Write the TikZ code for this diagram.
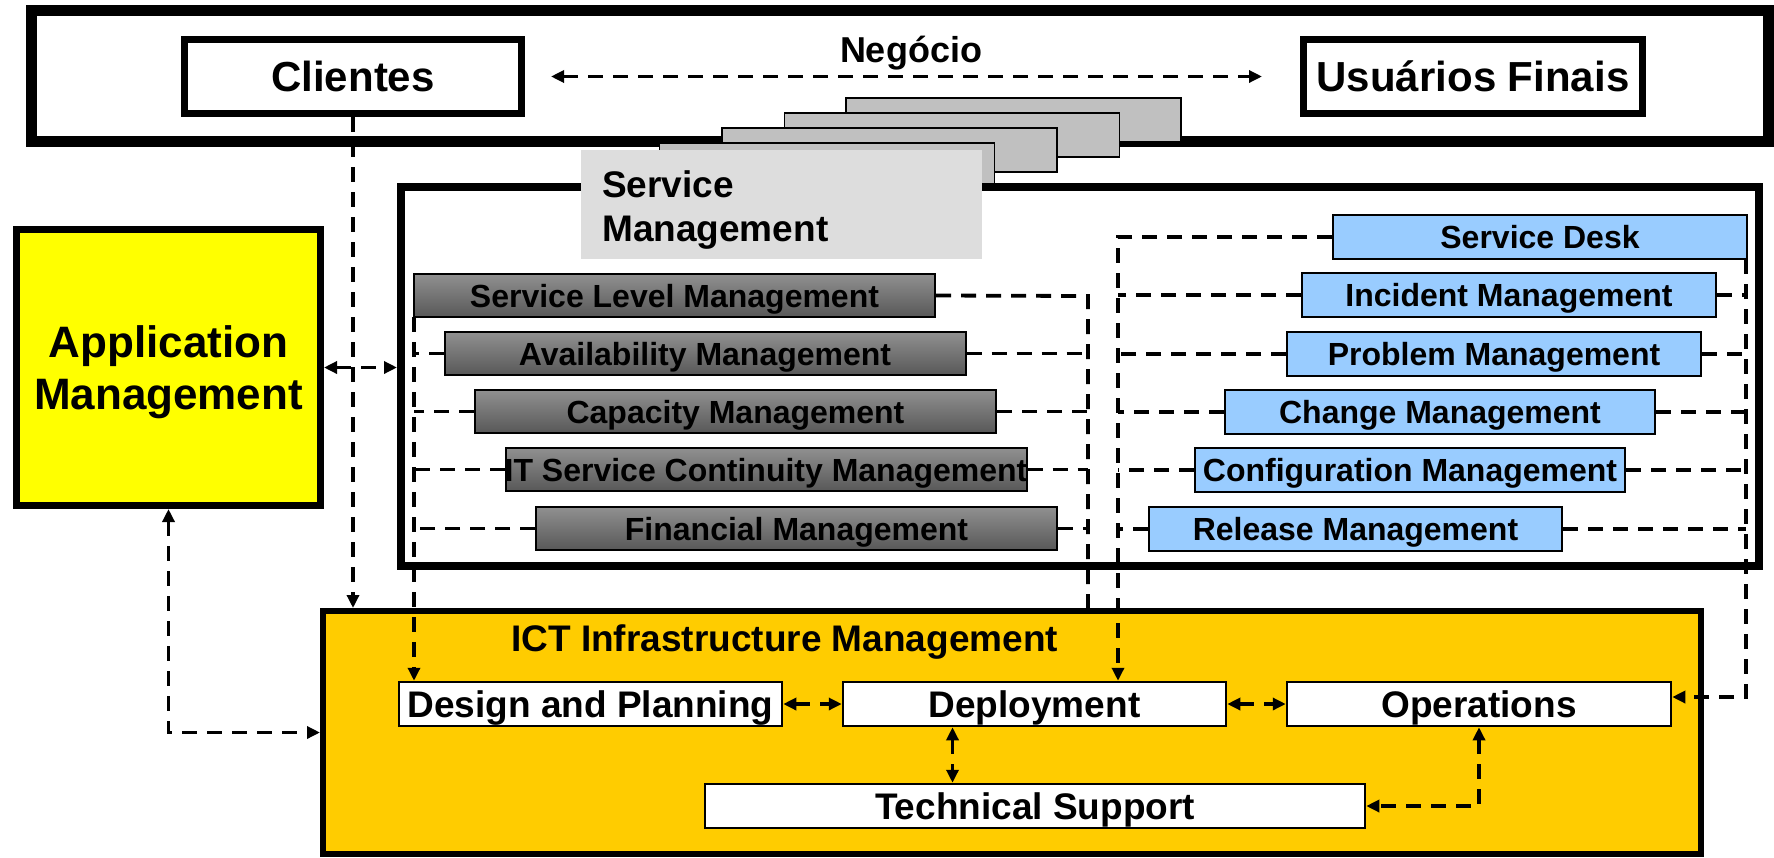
\documentclass[tikz,border=0pt]{standalone}
\usepackage{fontspec}
\setmainfont{Liberation Sans}
\usetikzlibrary{arrows.meta}
\definecolor{amyellow}{HTML}{FFFF00}
\definecolor{ictorange}{HTML}{FFCC00}
\definecolor{procblue}{HTML}{99CCFF}
\definecolor{titlegray}{HTML}{DDDDDD}
\definecolor{stackgray}{HTML}{C0C0C0}
\definecolor{proctop}{HTML}{909090}
\definecolor{procbot}{HTML}{585858}
\newcommand{\zw}[1]{\makebox[0pt]{#1}}
\begin{document}
\begin{tikzpicture}[x=1pt,y=-1pt,
  conn/.style={line width=3.8pt, dash pattern=on 15pt off 10pt},
  onearrow/.style={-{Triangle[length=13pt,width=12pt]}},
  twoarrow/.style={{Triangle[length=13pt,width=12pt]}-{Triangle[length=13pt,width=12pt]}},
  namebox/.style={draw, fill=white, line width=7pt, inner sep=0pt, minimum height=74pt, text height=30pt, text depth=0pt, font=\fontsize{42}{50}\selectfont\bfseries},
  stackbox/.style={draw, line width=1.5pt, fill=stackgray, minimum width=335pt, minimum height=44pt, inner sep=0pt},
  procgray/.style={draw, line width=2pt, top color=proctop, bottom color=procbot, minimum width=521pt, minimum height=43pt, inner sep=0pt, text height=23pt, text depth=0pt, font=\fontsize{32}{38}\selectfont\bfseries},
  procbluebox/.style={draw, line width=2pt, fill=procblue, minimum height=44pt, inner sep=0pt, text height=23pt, text depth=0pt, font=\fontsize{32}{38}\selectfont\bfseries},
  ictinner/.style={draw, line width=2.5pt, fill=white, minimum height=44pt, inner sep=0pt, text height=26.5pt, text depth=0pt, font=\fontsize{37}{44}\selectfont\bfseries},
  titletext/.style={inner sep=0pt, font=\fontsize{37}{44}\selectfont\bfseries}
]
\useasboundingbox (0,0) rectangle (1774,857);

% business frame
\node[draw, line width=11pt, minimum width=1737pt, minimum height=131pt, inner sep=0pt] (biz) at (900,76) {};
\node[namebox, minimum width=337pt] (cli) at (353,76.5) {Clientes};
\node[namebox, minimum width=339pt] (usu) at (1473,76.5) {Usuários Finais};
\node[inner sep=0pt, anchor=base, font=\fontsize{36}{43}\selectfont\bfseries] (neg) at (911,62) {Negócio};

% stacked boxes
\node[stackbox] (st4) at (1013.5,120) {};
\node[stackbox] (st3) at (952,135) {};
\node[stackbox] (st2) at (889.5,150) {};
\node[stackbox] (st1) at (827,165) {};

% service management frame
\node[draw, line width=8pt, minimum width=1358pt, minimum height=379pt, inner sep=0pt] (sm) at (1080,376.5) {};
\node[fill=titlegray, minimum width=401pt, minimum height=109pt, inner sep=0pt] (smbg) at (781.5,204.5) {};
\node[titletext, anchor=north west, align=left] (smtitle) at (602,170) {Service\\Management};

% application management
\node[draw, fill=amyellow, line width=7pt, minimum width=304pt, minimum height=276pt, inner sep=0pt] (am) at (168.5,367.5) {};
\node[inner sep=0pt, align=center, font=\fontsize{44}{52}\selectfont\bfseries] (amlabel) at ([yshift=-5pt]am.center) {Application\\Management};

% ICT
\node[draw, fill=ictorange, line width=6pt, minimum width=1378pt, minimum height=243pt, inner sep=0pt] (ict) at (1012,732.5) {};
\node[titletext, anchor=base west] (icttitle) at (511,651) {ICT Infrastructure Management};
\node[ictinner, minimum width=383pt] (dp) at (590.5,704) {Design and Planning};
\node[ictinner, minimum width=383pt] (dep) at (1034.5,704) {Deployment};
\node[ictinner, minimum width=384pt] (ops) at (1479,704) {Operations};
\node[ictinner, minimum width=660pt] (ts) at (1035,806) {Technical Support};

% left processes
\node[procgray] (slm) at (674.5,295.5) {\zw{Service Level Management}};
\node[procgray] (avm) at (705,353.5) {\zw{Availability Management}};
\node[procgray] (cap) at (735.5,411.5) {\zw{Capacity Management}};
\node[procgray] (itscm) at (766,469.5) {\zw{IT Service Continuity Management}};
\node[procgray] (fin) at (796.5,528.5) {\zw{Financial Management}};

% right processes
\node[procbluebox, minimum width=414pt] (sd) at (1540,237) {\zw{Service Desk}};
\node[procbluebox, minimum width=414pt] (im) at (1509,295) {\zw{Incident Management}};
\node[procbluebox, minimum width=414pt] (pm) at (1494,354) {\zw{Problem Management}};
\node[procbluebox, minimum width=430pt] (chm) at (1440,412) {\zw{Change Management}};
\node[procbluebox, minimum width=430pt] (cfm) at (1410,470) {\zw{Configuration Management}};
\node[procbluebox, minimum width=413pt] (rm) at (1355.5,529) {\zw{Release Management}};

% bus coordinates
\coordinate (lbusL) at (414,317);
\coordinate (lbusR) at (1088,296);
\coordinate (rbusL) at (1118,237);
\coordinate (rbusR) at (1746,259);
\coordinate (opsin) at ([yshift=7pt]ops.east);
\coordinate (dts) at ([xshift=-82pt]dep.south);

% connectors
\draw[conn, line width=3.2pt, twoarrow, shorten <=26pt, shorten >=38pt] (cli.east) -- (usu.west);
\draw[conn, onearrow] (cli.south) -- (cli.south |- ict.north);
\draw[conn, twoarrow] (am.east) -- (am.east -| sm.west);
\draw[conn, twoarrow] (am.south) |- (ict.west);

% left group, left bus
\draw[conn, onearrow] (lbusL) -- (lbusL |- dp.north);
\draw[conn] (avm.west) -- (avm.west -| lbusL);
\draw[conn] (cap.west) -- (cap.west -| lbusL);
\draw[conn] (itscm.west) -- (itscm.west -| lbusL);
\draw[conn] (fin.west) -- (fin.west -| lbusL);
% left group, right bus
\draw[conn] (slm.east) -- (lbusR) -- (lbusR |- ict.north);
\draw[conn] (avm.east) -- (avm.east -| lbusR);
\draw[conn] (cap.east) -- (cap.east -| lbusR);
\draw[conn] (itscm.east) -- (itscm.east -| lbusR);
\draw[conn] (fin.east) -- (fin.east -| lbusR);
% right group, left bus
\draw[conn, onearrow] (sd.west) -- (rbusL) -- (rbusL |- dep.north);
\draw[conn] (im.west) -- (im.west -| rbusL);
\draw[conn] (pm.west) -- (pm.west -| rbusL);
\draw[conn] (chm.west) -- (chm.west -| rbusL);
\draw[conn] (cfm.west) -- (cfm.west -| rbusL);
\draw[conn] (rm.west) -- (rm.west -| rbusL);
% right group, right bus
\draw[conn, onearrow] (rbusR) |- (opsin);
\draw[conn] (im.east) -- (im.east -| rbusR);
\draw[conn] (pm.east) -- (pm.east -| rbusR);
\draw[conn] (chm.east) -- (chm.east -| rbusR);
\draw[conn] (cfm.east) -- (cfm.east -| rbusR);
\draw[conn] (rm.east) -- (rm.east -| rbusR);

% ICT internal
\draw[conn, twoarrow] (dp.east) -- (dep.west);
\draw[conn, twoarrow] (dep.east) -- (ops.west);
\draw[conn, twoarrow] (dts) -- (dts |- ts.north);
\draw[conn, twoarrow] (ops.south) |- (ts.east);
\end{tikzpicture}
\end{document}
